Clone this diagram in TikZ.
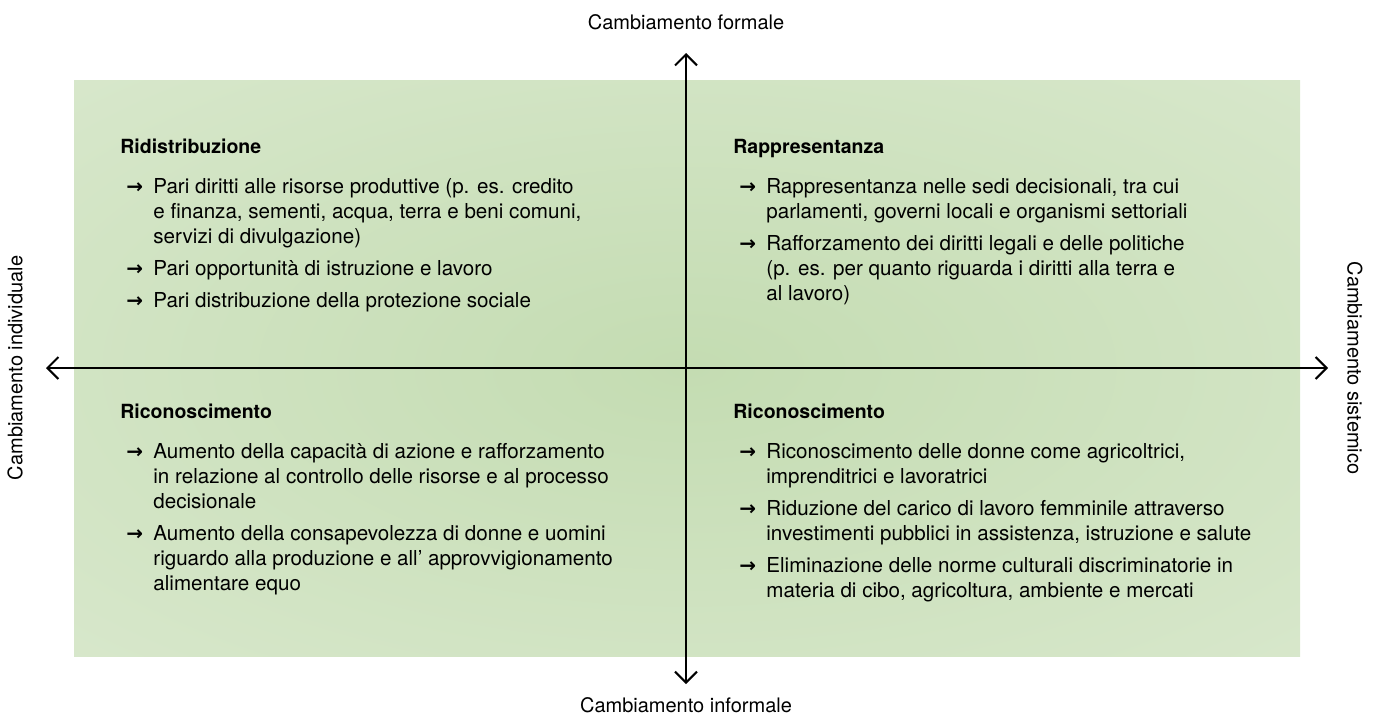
\documentclass[tikz,border=0pt]{standalone}
\usepackage{fontspec}
\setmainfont{TeX Gyre Heros}
\newfontfamily\frecciafont{DejaVu Sans}
\usetikzlibrary{arrows.meta,positioning}
\definecolor{verdecentro}{RGB}{196,220,178}
\definecolor{verdebordo}{RGB}{234,242,227}
\pgfdeclareradialshading{sfondoverde}{\pgfpoint{0bp}{0bp}}{color(0bp)=(verdecentro); color(70bp)=(verdebordo)}
\newcommand{\voce}[1]{\makebox[16.5pt][l]{\hspace{3pt}{\fontsize{10}{10}\frecciafont\bfseries →}}\begin{tabular}[t]{@{}l@{}}#1\end{tabular}}

\begin{document}
\begin{tikzpicture}[x=0.5pt,y=0.5pt,>={Straight Barb[length=5.5pt,width=11pt]}]
        \tikzstyle{asse}=[line width=1pt,<->]
        \tikzstyle{etichetta}=[inner sep=0pt,font=\fontsize{10}{12.5}\selectfont]
        \tikzstyle{titolo}=[inner sep=0pt,anchor=base west,font=\fontsize{9.75}{12.5}\selectfont\bfseries]
        \tikzstyle{voce}=[inner sep=0pt,font=\fontsize{10.3}{12.5}\selectfont]
        \useasboundingbox (0,0) rectangle (1381,720);
        \shade[shading=sfondoverde] (74,64) rectangle (1300,640);
        \coordinate (nord) at (686,667);
        \coordinate (sud) at (686,36);
        \coordinate (ovest) at (46,352);
        \coordinate (est) at (1328,352);
        \node[etichetta] (formale) at (686,698) {Cambiamento formale};
        \node[etichetta] (informale) at (686,15) {Cambiamento informale};
        \node[etichetta,rotate=90] (individuale) at (15,352) {Cambiamento individuale};
        \node[etichetta,rotate=-90] (sistemico) at (1355,352) {Cambiamento sistemico};
        \draw[asse] (ovest) -- (est);
        \draw[asse] (sud) -- (nord);
        \node[titolo] (ridis) at (120,567) {\strut Ridistribuzione};
        \node[voce,below right=7.5pt and 0pt of ridis.south west] (ridisA) {\voce{Pari diritti alle risorse produttive (p. es. credito\\e finanza, sementi, acqua, terra e beni comuni,\\servizi di divulgazione)}};
        \node[voce,below right=3pt and 0pt of ridisA.south west] (ridisB) {\voce{Pari opportunità di istruzione e lavoro}};
        \node[voce,below right=3pt and 0pt of ridisB.south west] (ridisC) {\voce{Pari distribuzione della protezione sociale}};
        \node[titolo] (rappr) at (733,567) {\strut Rappresentanza};
        \node[voce,below right=7.5pt and 0pt of rappr.south west] (rapprA) {\voce{Rappresentanza nelle sedi decisionali, tra cui\\parlamenti, governi locali e organismi settoriali}};
        \node[voce,below right=3pt and 0pt of rapprA.south west] (rapprB) {\voce{Rafforzamento dei diritti legali e delle politiche\\(p. es. per quanto riguarda i diritti alla terra e\\al lavoro)}};
        \node[titolo] (ricind) at (120,302) {\strut Riconoscimento};
        \node[voce,below right=7.5pt and 0pt of ricind.south west] (ricindA) {\voce{Aumento della capacità di azione e rafforzamento\\in relazione al controllo delle risorse e al processo\\decisionale}};
        \node[voce,below right=3pt and 0pt of ricindA.south west] (ricindB) {\voce{Aumento della consapevolezza di donne e uomini\\riguardo alla produzione e all’ approvvigionamento\\alimentare equo}};
        \node[titolo] (ricsis) at (733,302) {\strut Riconoscimento};
        \node[voce,below right=7.5pt and 0pt of ricsis.south west] (ricsisA) {\voce{Riconoscimento delle donne come agricoltrici,\\imprenditrici e lavoratrici}};
        \node[voce,below right=3pt and 0pt of ricsisA.south west] (ricsisB) {\voce{Riduzione del carico di lavoro femminile attraverso\\investimenti pubblici in assistenza, istruzione e salute}};
        \node[voce,below right=3pt and 0pt of ricsisB.south west] (ricsisC) {\voce{Eliminazione delle norme culturali discriminatorie in\\materia di cibo, agricoltura, ambiente e mercati}};
\end{tikzpicture}
\end{document}
